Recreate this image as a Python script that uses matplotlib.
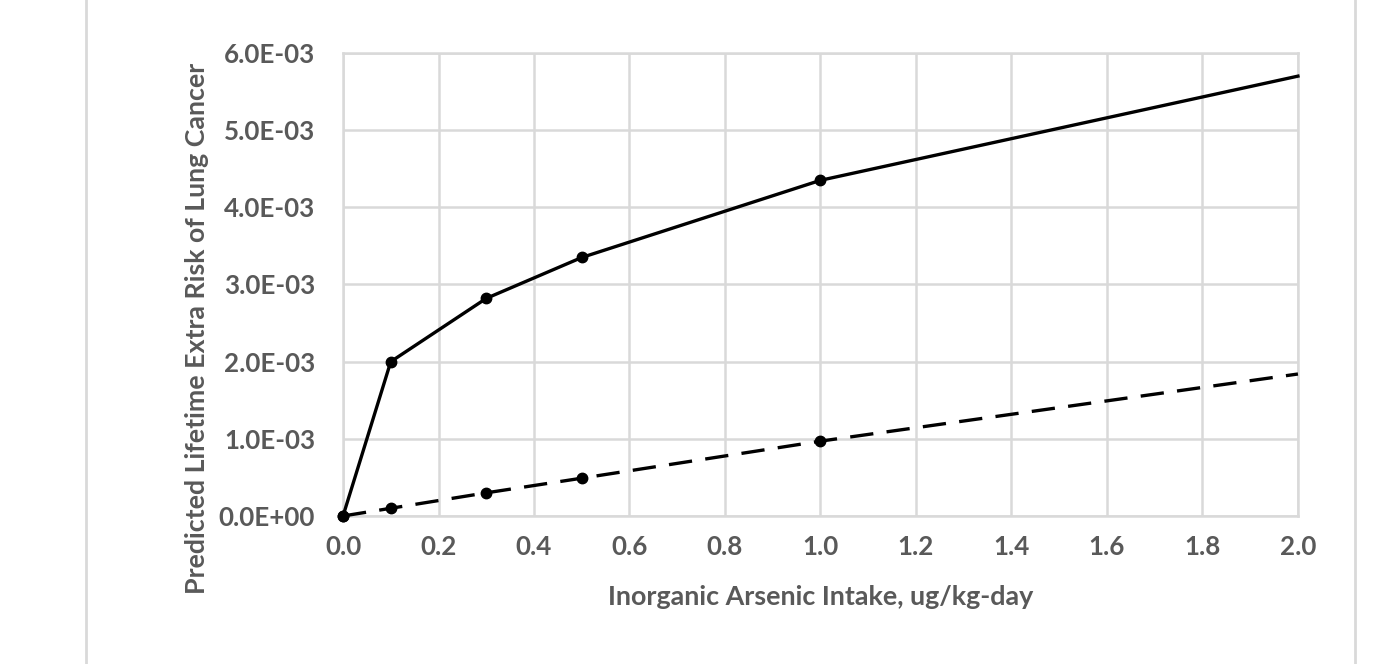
import matplotlib.pyplot as plt
from matplotlib.lines import Line2D

intake = [0.0, 0.1, 0.3, 0.5, 1.0, 2.0]
risk_upper = [0.0, 2.00e-3, 2.82e-3, 3.35e-3, 4.35e-3, 5.70e-3]
risk_linear = [0.0, 0.10e-3, 0.30e-3, 0.49e-3, 0.97e-3, 1.84e-3]

x_ticks = [0.0, 0.2, 0.4, 0.6, 0.8, 1.0, 1.2, 1.4, 1.6, 1.8, 2.0]
y_ticks = [0.0, 1e-3, 2e-3, 3e-3, 4e-3, 5e-3, 6e-3]

plt.rcParams['font.family'] = ['Lato', 'DejaVu Sans']
text_color = '#595959'
grid_color = '#d9d9d9'

fig = plt.figure(figsize=(13.91, 6.64), dpi=100)
ax = fig.add_axes([0.2466, 0.2229, 0.6865, 0.6973])

ax.plot(intake, risk_upper, color='black', lw=2.4, marker='o', ms=7.5,
        markevery=[0, 1, 2, 3, 4], zorder=3, clip_on=False)
ax.plot(intake, risk_linear, color='black', lw=2.4, marker='o', ms=7.5,
        markevery=[0, 1, 2, 3, 4], dashes=(7, 4), zorder=3, clip_on=False)

ax.set_xlim(0, 2.0)
ax.set_ylim(0, 6e-3)
ax.set_xticks(x_ticks)
ax.set_xticklabels([f'{v:.1f}' for v in x_ticks])
ax.set_yticks(y_ticks)
ax.set_yticklabels(['0.0E+00'] + [f'{v*1000:.1f}E-03' for v in y_ticks[1:]])

ax.grid(True, color=grid_color, lw=1.8)
ax.set_axisbelow(True)
for s in ax.spines.values():
    s.set_color(grid_color)
    s.set_linewidth(1.8)
ax.tick_params(length=0, labelsize=18.7, labelcolor=text_color)
ax.tick_params(axis='x', pad=14)
ax.tick_params(axis='y', pad=20)
for lbl in ax.get_xticklabels() + ax.get_yticklabels():
    lbl.set_fontweight('bold')

ax.set_xlabel('Inorganic Arsenic Intake, ug/kg-day', fontsize=19.4, fontweight='bold',
              color=text_color)
ax.xaxis.set_label_coords(0.5, -0.175)
ax.xaxis.label.set_va('center')
ax.set_ylabel('Predicted Lifetime Extra Risk of Lung Cancer', fontsize=19.3,
              fontweight='bold', color=text_color)
ax.yaxis.set_label_coords(-0.153, 0.406)
ax.yaxis.label.set_va('center')

# chart area border edges
fig.add_artist(Line2D([86 / 1391, 86 / 1391], [0, 1], color=grid_color, lw=2))
fig.add_artist(Line2D([1355 / 1391, 1355 / 1391], [0, 1], color=grid_color, lw=2))

fig.savefig('out.png', dpi=100, facecolor='white')
